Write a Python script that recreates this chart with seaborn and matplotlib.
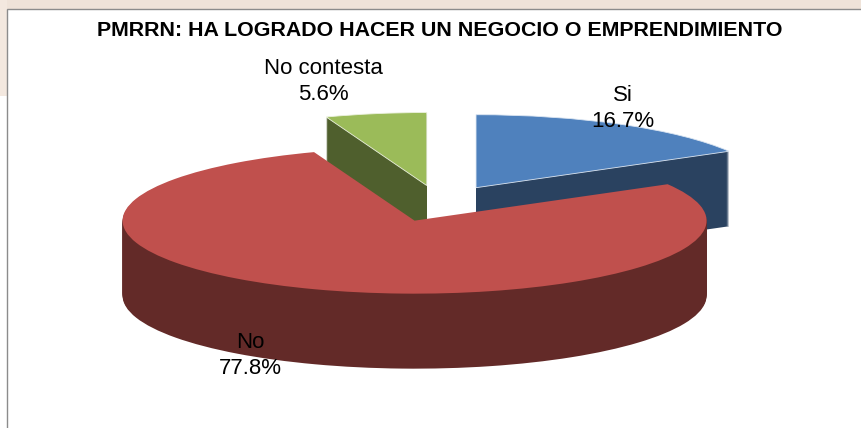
import matplotlib
matplotlib.use("Agg")
import matplotlib.pyplot as plt
from matplotlib.patches import Rectangle
import seaborn as sns

sns.set_theme(style="white")
plt.rcParams['font.family'] = ['Liberation Sans', 'DejaVu Sans']

categories = ["Si", "No", "No contesta"]
values = [16.7, 77.8, 5.6]
top_colors = ["#4F81BD", "#C0504D", "#9BBB59"]
wall_colors = ["#2A4260", "#632A28", "#4F5F2D"]
title = "PMRRN: HA LOGRADO HACER UN NEGOCIO O EMPRENDIMIENTO"

W, H = 862, 428
RX, RY = 292.0, 73.0          # pie radius in pixels on the squashed axes
CX, CY = 439.5, 203.5         # un-exploded pie centre in pixels
DEPTH_PX = 75
EXPLODE = [0.25, 0.25, 0.25]

fig = plt.figure(figsize=(W / 100, H / 100), dpi=100, facecolor="white")

# backdrop strips and chart frame
fig.patches.append(Rectangle((0, 1 - 9 / H), 1, 9 / H, transform=fig.transFigure,
                             facecolor="#EFE3D9", edgecolor="none", figure=fig))
fig.patches.append(Rectangle((0, 1 - 96 / H), 7 / W, 96 / H, transform=fig.transFigure,
                             facecolor="#F3E8DF", edgecolor="none", figure=fig))
fig.patches.append(Rectangle((7 / W, -0.01), 1, 1.01 - 9 / H, transform=fig.transFigure,
                             facecolor="white", edgecolor="#8C8C8C", linewidth=1.0, figure=fig))

ax = fig.add_axes([0, 0, 1, 1])
ax.set_zorder(5)
ax.patch.set_alpha(0)

# side walls: the same pie repeated downward, back slices under the front one
for step in range(DEPTH_PX, 0, -1):
    wedges, _ = ax.pie(values, colors=wall_colors, explode=EXPLODE, startangle=90,
                       counterclock=False, center=(0, -step / RY),
                       wedgeprops=dict(linewidth=0))
    for wedge, z in zip(wedges, [1, 2, 1]):
        wedge.set_zorder(z)

# top faces
wedges, _ = ax.pie(values, colors=top_colors, explode=EXPLODE, startangle=90,
                   counterclock=False, center=(0, 0),
                   wedgeprops=dict(linewidth=0))
for wedge, z, edge in zip(wedges, [3, 4, 3], ["#DCE6F2", "none", "#EBF1DE"]):
    wedge.set_zorder(z)
    wedge.set_edgecolor(edge)
    wedge.set_linewidth(0.6)

ax.set_aspect("auto")
ax.set_xlim(-CX / RX, (W - CX) / RX)
ax.set_ylim(-(H - CY) / RY, CY / RY)
ax.axis("off")


def px(x, y):
    return (x - CX) / RX, (CY - y) / RY


label_pos = {"Si": (623, 108.5), "No": (250, 355.5), "No contesta": (323, 81.5)}
for name, value in zip(categories, values):
    x, y = px(*label_pos[name])
    ax.text(x, y, f"{name}\n{value:.1f}%", ha="center", va="center", fontsize=16,
            color="black", linespacing=1.37, zorder=10)

tx, ty = px(439.5, 30)
ax.text(tx, ty, title, ha="center", va="center", fontsize=15.4, fontweight="bold",
        color="black", zorder=10)

fig.savefig("out.png", dpi=100)
